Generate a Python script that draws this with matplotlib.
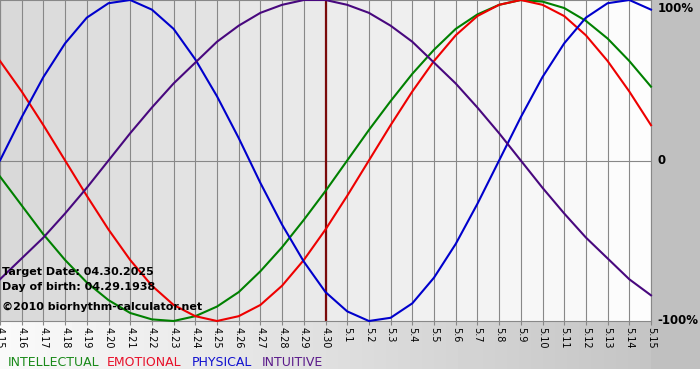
import numpy as np
import matplotlib
matplotlib.use("Agg")
import matplotlib.pyplot as plt

# day labels along the bottom (4.15 .. 5.15)
days = ["4.15", "4.16", "4.17", "4.18", "4.19", "4.20", "4.21", "4.22", "4.23",
        "4.24", "4.25", "4.26", "4.27", "4.28", "4.29", "4.30", "5.1", "5.2",
        "5.3", "5.4", "5.5", "5.6", "5.7", "5.8", "5.9", "5.10", "5.11", "5.12",
        "5.13", "5.14", "5.15"]
target_idx = 15  # 4.30

# cycle values, one per day (-1 .. 1)
physical = [0.00, 0.27, 0.52, 0.73, 0.89, 0.98, 1.00, 0.94, 0.82, 0.63, 0.40,
            0.14, -0.14, -0.40, -0.63, -0.82, -0.94, -1.00, -0.98, -0.89, -0.73,
            -0.52, -0.27, 0.00, 0.27, 0.52, 0.73, 0.89, 0.98, 1.00, 0.94]
emotional = [0.62, 0.43, 0.22, 0.00, -0.22, -0.43, -0.62, -0.78, -0.90, -0.97,
             -1.00, -0.97, -0.90, -0.78, -0.62, -0.43, -0.22, 0.00, 0.22, 0.43,
             0.62, 0.78, 0.90, 0.97, 1.00, 0.97, 0.90, 0.78, 0.62, 0.43, 0.22]
intellectual = [-0.10, -0.28, -0.46, -0.62, -0.76, -0.87, -0.95, -0.99, -1.00,
                -0.97, -0.91, -0.82, -0.69, -0.54, -0.37, -0.19, 0.00, 0.19, 0.37,
                0.54, 0.69, 0.82, 0.91, 0.97, 1.00, 0.99, 0.95, 0.87, 0.76, 0.62, 0.46]
intuitive = [-0.74, -0.61, -0.48, -0.33, -0.17, 0.00, 0.17, 0.33, 0.48, 0.61,
             0.74, 0.84, 0.92, 0.97, 1.00, 1.00, 0.97, 0.92, 0.84, 0.74, 0.61,
             0.48, 0.33, 0.17, 0.00, -0.17, -0.33, -0.48, -0.61, -0.74, -0.84]

series = [("INTELLECTUAL", intellectual, "#008000", "#1a8a1a"),
          ("EMOTIONAL", emotional, "#ee0000", "#e8102a"),
          ("PHYSICAL", physical, "#0000cc", "#1010d0"),
          ("INTUITIVE", intuitive, "#48087e", "#5a1a8a")]

W, H = 700, 380
fig = plt.figure(figsize=(W / 100, H / 100), dpi=100)
fig.patch.set_facecolor("white")

# background band: white -> grey, grey margin on the right
bg = fig.add_axes([0, 11 / H, 1, 1 - 11 / H])
bg.set_axis_off()
grad = np.concatenate([np.linspace(0.98, 0.77, 651), np.full(49, 0.753)])
bg.imshow(grad[None, :], cmap="gray", vmin=0, vmax=1, aspect="auto",
          extent=[0, 1, 0, 1], interpolation="nearest")
bg.set_xlim(0, 1)
bg.set_ylim(0, 1)

n = len(days)
x = np.arange(n)
ax = fig.add_axes([0, 59 / H, 651 / W, 321 / H])
ax.set_xlim(0, n - 1)
ax.set_ylim(-1, 1)

# stepped grey gradient inside the plot
cols = np.linspace(0.85, 0.99, n - 1)
ax.imshow(cols[None, :], cmap="gray", vmin=0, vmax=1, aspect="auto",
          extent=[0, n - 1, -1, 1], interpolation="nearest", zorder=0)

for i in x:
    ax.axvline(i, color="#888888", lw=0.8, zorder=1)
ax.axhline(0, color="#888888", lw=0.8, zorder=1)
ax.axvline(target_idx, color="#7a0a0a", lw=1.6, zorder=2)

for name, vals, c, _ in series:
    ax.plot(x, vals, color=c, lw=1.5, zorder=3, clip_on=False,
            solid_joinstyle="round")

for s in ax.spines.values():
    s.set_color("#888888")
    s.set_linewidth(0.8)

ax.set_xticks(x)
ax.set_xticklabels(days, rotation=-90, fontsize=7)
ax.tick_params(axis="x", length=3, color="#888888", pad=1)
ax.set_yticks([])

# right-hand percentage labels
ax.text(1.01, 0.975, "100%", transform=ax.transAxes, fontsize=8.5,
        fontweight="bold", va="center", ha="left")
ax.text(1.01, 0.5, "0", transform=ax.transAxes, fontsize=8.5,
        fontweight="bold", va="center", ha="left")
ax.text(1.01, 0.0, "-100%", transform=ax.transAxes, fontsize=8.5,
        fontweight="bold", va="center", ha="left")

# info text in the lower-left corner of the plot
info = ["Target Date: 04.30.2025", "Day of birth: 04.29.1938"]
fig.text(2 / W, 1 - 272 / H, info[0], fontsize=8, fontweight="bold", va="center")
fig.text(2 / W, 1 - 287 / H, info[1], fontsize=8, fontweight="bold", va="center")
fig.text(2 / W, 1 - 307 / H, "\u00a92010 biorhythm-calculator.net", fontsize=8,
         fontweight="bold", va="center")

# coloured legend words
leg_x = [8, 107, 192, 262]
for (name, _, _, tc), lx in zip(series, leg_x):
    fig.text(lx / W, 1 - 362 / H, name, fontsize=9, color=tc, va="center")

fig.savefig("out.png", dpi=100)
